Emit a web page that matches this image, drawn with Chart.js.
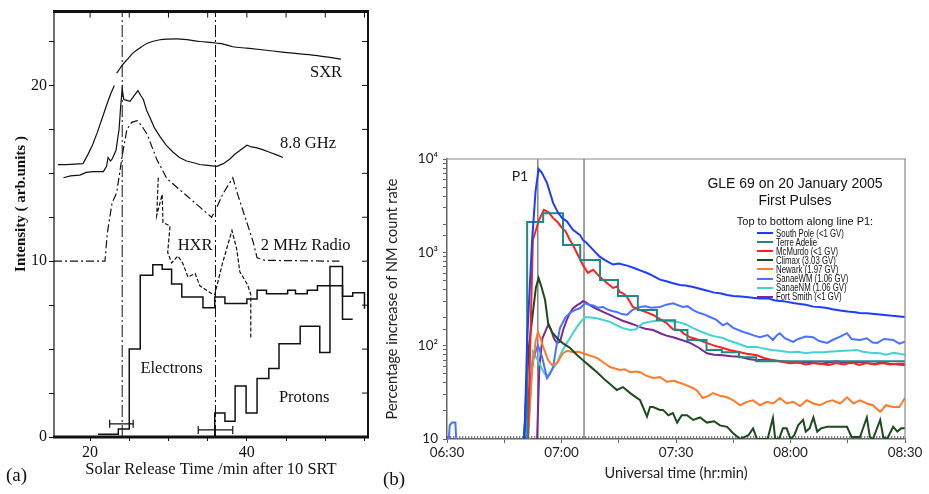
<!DOCTYPE html>
<html>
<head>
<meta charset="utf-8">
<script src="https://cdn.jsdelivr.net/npm/chart.js@4.4.1/dist/chart.umd.min.js"></script>
<style>
  body { margin: 0; background: #fff; width: 929px; height: 494px; position: relative; overflow: hidden; }
  canvas { position: absolute; top: 0; }
  #chartA { left: 0; }
  #chartB { left: 380px; }
  .t { position: absolute; white-space: nowrap; color: #111; }
  .serif { font-family: "Liberation Serif", serif; }
  .sans { font-family: "Liberation Sans", Arial, sans-serif; }
  .ytitle { left: 20px; top: 204px; font-size: 15px; font-weight: bold; transform: translate(-50%, -50%) rotate(-90deg); }
  .ctr { transform: translate(-50%, -50%); }
  #legend { position: absolute; left: 757px; top: 228.5px; }
  .lr { height: 9.1px; display: flex; align-items: center; font: 10px "Liberation Sans", Arial, sans-serif; color: #111; }
  .sw { width: 16px; height: 2px; margin-right: 3px; flex: none; }
  .ln { display: inline-block; transform: scaleX(0.78); transform-origin: left center; white-space: nowrap; }
</style>
</head>
<body>
<canvas id="chartA" width="380" height="494"></canvas>
<canvas id="chartB" width="549" height="494"></canvas>
<div class="t serif ytitle">Intensity ( arb.units )</div>
<div class="t serif" style="left:6px;top:464px;font-size:19px">(a)</div>
<div class="t serif" style="left:383px;top:468px;font-size:19px">(b)</div>
<div class="t sans ctr" style="left:795px;top:183px;font-size:14px">GLE 69 on 20 January 2005</div>
<div class="t sans ctr" style="left:795px;top:200px;font-size:14px">First Pulses</div>
<div class="t sans ctr" style="left:805px;top:221px;font-size:11px">Top to bottom along line P1:</div>
<div id="legend"></div>
<script>
// ---- panel (a): minutes after 10 SRT vs intensity (arb. units)
const sxr = [[23.4, 20.7], [23.8, 20.95], [24.1, 21.15], [24.8, 21.5], [25.5, 21.85], [26.4, 22.15],
  [27.3, 22.4], [28.9, 22.6], [31.1, 22.65], [34, 22.5], [36.2, 22.4], [37, 22.35], [38.2, 22.2],
  [40, 22.12], [42.5, 22.0], [44.5, 21.9], [46.8, 21.8], [49, 21.7], [52, 21.5]];
const riseCurve = [[15.9, 15.5], [17, 15.5], [18, 15.52], [19.1, 15.55], [19.7, 16.05], [20.3, 16.6],
  [20.9, 17.3], [21.6, 18.2], [22.2, 19.0], [22.7, 19.6], [23.1, 20.0]];
const ghz88 = [[16.6, 14.75], [17.5, 14.85], [18.7, 14.9], [19.5, 15.05], [20.4, 15.1], [21.7, 15.1],
  [22.1, 15.4], [22.3, 15.9], [22.6, 15.7], [22.8, 15.8], [23.3, 16.3], [23.7, 17.5], [23.9, 18.8],
  [24.1, 19.8], [24.3, 19.2], [24.7, 19.15], [25.1, 19.1], [25.6, 19.4], [26.1, 19.7], [26.5, 19.4],
  [26.8, 19.2], [27.2, 18.6], [27.6, 18.2], [28.2, 17.6], [28.9, 17.1], [29.7, 16.6], [30.6, 16.2],
  [31.4, 15.9], [32.3, 15.7], [33.2, 15.6], [34, 15.5], [35, 15.45], [36.2, 15.4], [37, 15.55],
  [37.8, 15.8], [38.5, 16.1], [39.1, 16.3], [40, 16.6], [40.6, 16.5], [41.3, 16.45], [42, 16.35],
  [42.9, 16.2], [43.8, 16.05], [44.6, 15.9]];
const radio2MHz = [[15.4, 10], [21.9, 10], [22.2, 11.6], [22.8, 13.3], [23.4, 13.9], [23.6, 14.5],
  [24.1, 16], [24.7, 17.5], [25.3, 17.9], [26, 18.0], [26.6, 17.7], [27.3, 17.2], [28.5, 15.8],
  [29.8, 14.7], [35.5, 12.5], [36, 12.9], [36.9, 13.8], [38.2, 14.75], [38.9, 13.7], [40, 12.2],
  [40.8, 11.1], [41.3, 10.2], [42.3, 10.05], [51.8, 10]];
const hxr = [[28.7, 14.75], [28.5, 12.6], [29.2, 13.8], [29.3, 12.2], [30.2, 12.0], [29.9, 10.5],
  [30.4, 9.9], [31.2, 10.3], [31.8, 9.9], [32.5, 9.1], [33.4, 9.3], [34, 8.6], [35.7, 8.1],
  [35.9, 8.1], [36.9, 9.9], [38.1, 11.75], [38.7, 10.7], [39.1, 9.4], [40.1, 8.65], [40.5, 8.1],
  [40.5, 5.6]];
const electrons = [[21, 0.15], [23.6, 0.45], [25.0, 5.0], [26.4, 9.2], [28.0, 9.8], [29.2, 9.55],
  [30.4, 8.7], [31.7, 7.97], [34.4, 7.35], [35.9, 7.97], [37.2, 7.6], [40, 7.85], [41.3, 8.35],
  [42.5, 8.15], [45.2, 8.35], [46.2, 8.15], [47.7, 8.35], [49, 8.6], [52.2, 8.0], [53.5, 8.2], [55, 7.3]];
const protons = [[35.9, 0], [35.9, 1.36], [37.2, 0.9], [38.5, 2.9], [39.9, 1.36], [41.3, 3.33],
  [42.8, 3.9], [44.1, 5.3], [46.8, 6.3], [49.3, 4.8], [50.6, 9.7], [52.2, 6.7], [53.5, 6.7]];
const electronErr = [[22.5, 0.75], [25.5, 0.75]];
const protonErr = [[33.8, 0.4], [38.2, 0.4]];
const releaseTimes = [24.1, 36];

// ---- panel (b): minutes after 06:30 UT vs percentage increase
const timeTicks = ['06:30', '07:00', '07:30', '08:00', '08:30'];
const stations = ['South Pole (<1 GV)', 'Terre Adelie', 'McMurdo (<1 GV)', 'Climax (3.03 GV)',
  'Newark (1.97 GV)', 'SanaeWM (1.06 GV)', 'SanaeNM (1.06 GV)', 'Fort Smith (<1 GV)'];
const southPole = [[20.3, 10], [21, 115], [22.3, 1350], [23.2, 4500], [24, 7800], [24.8, 7200],
  [26.2, 5550], [27.8, 3390], [29, 2700], [30.1, 2340], [31.4, 2150], [33, 1740], [34.8, 1540],
  [35.6, 1358], [36.6, 1260], [38.3, 1061], [40, 900], [41.5, 820], [43.5, 740], [45, 760],
  [47.2, 720], [49, 680], [50.6, 640], [52.4, 600], [54, 560], [55.8, 510], [57.5, 490], [59, 470],
  [61, 446], [62.5, 440], [64.5, 426], [66, 410], [68, 390], [70, 370], [71.5, 365], [73.4, 349],
  [75, 340], [77, 336], [79, 330], [80.5, 325], [82, 320], [84, 322], [86, 305], [88, 300],
  [90.7, 287], [92.5, 280], [94, 275], [96, 262], [98, 258], [99.6, 253], [101, 245], [103, 238],
  [105, 232], [107, 228], [108, 224], [110, 222], [112, 218], [114, 214], [116, 210], [118, 207], [120, 203]];
const terreAdelie = [[21, 10], [21, 2120], [25.2, 2630], [30.4, 1200], [34.9, 830], [40.1, 506],
  [44.8, 340], [50, 241], [55, 187], [59.7, 147], [63, 115], [68, 90], [72, 85], [76.5, 75],
  [81, 68], [120, 66]];
const mcMurdo = [[21.2, 10], [22.5, 1358], [24.1, 2220], [25.4, 2850], [26.5, 2700], [27.8, 2340],
  [29, 2100], [30.1, 1830], [31, 1700], [32.2, 1358], [33, 1200], [34, 990], [35.6, 733], [36.9, 603],
  [38.3, 650], [40.1, 543], [41.9, 470], [43.5, 415], [44.5, 430], [45.3, 377], [46.3, 360],
  [47.2, 332], [48.7, 260], [50.6, 241], [52, 230], [54, 213], [56, 190], [57.6, 174], [59.2, 150],
  [61, 147], [62, 135], [63.7, 123], [66, 115], [68, 107], [70, 100], [72.3, 94.5], [74, 90],
  [76.8, 85], [78.5, 82], [81.2, 79], [83, 74], [85.4, 70], [87, 68], [89.9, 65], [92, 66], [94, 63],
  [96, 65], [98, 64], [100, 62], [102, 65], [104, 63], [106, 66], [108, 62], [110, 65], [112, 63],
  [114, 65], [116, 63], [118, 64], [120, 64]];
const climax = [[20.2, 10], [20.7, 28], [21.5, 100], [22.5, 224], [23.3, 420], [24, 530], [24.8, 420],
  [25.7, 308], [26.5, 174], [27.5, 140], [28.8, 121], [30.5, 105], [32.2, 95], [34, 80], [35.6, 70],
  [37.5, 60], [39.3, 52], [41.4, 43], [43, 38], [44.5, 33.5], [46.1, 36], [48, 31], [50.6, 26],
  [52.4, 17.4], [53.2, 22], [54, 22], [55.8, 20.5], [56.6, 20.5], [58, 18], [59.2, 19], [60.3, 15],
  [61.5, 18], [62.9, 18], [64.5, 16], [66.3, 17], [68.1, 15], [70, 15.5], [71.5, 14], [73.4, 13.5],
  [74.9, 11.6], [76.8, 10], [79, 11], [80.2, 13], [81.2, 10], [84, 10], [85.4, 16.8], [86, 10],
  [87, 10], [88, 13], [89, 13], [90, 10], [91, 11], [92, 14], [93.3, 16], [94, 12], [95, 13], [96, 17],
  [97, 12], [98, 13], [99.6, 13.5], [104.8, 13.5], [106, 10.5], [108.2, 10.5], [110, 17], [110.8, 10.5],
  [111.6, 10], [113.5, 16], [114.3, 10.5], [115.3, 10], [116.9, 13.5], [118, 12], [119, 13], [120, 13]];
const newark = [[21.1, 10], [22.2, 50], [23.2, 110], [23.8, 140], [24.5, 120], [25.2, 97], [26.5, 70],
  [27.5, 62], [28.8, 65], [30.4, 83], [31.5, 88], [33, 85], [34.5, 86], [35.6, 83], [37.5, 78],
  [39.3, 74], [41, 66], [42.7, 59], [44, 57], [45.3, 55], [46.5, 56], [48, 52], [49.5, 53], [50.6, 52],
  [52, 48], [54, 45], [55.8, 46], [57.6, 41], [59.5, 42], [61, 40], [62.5, 38], [64.5, 35], [65.5, 33],
  [67, 27.5], [68.5, 29], [69.7, 31], [71.5, 29], [73.4, 28], [75, 26], [76.8, 23], [78.5, 25],
  [80.2, 26], [82, 23], [83.8, 25], [85.5, 24], [87.2, 27.5], [89, 24], [90.7, 25], [92.5, 22.5],
  [94.3, 26], [96, 24], [97.7, 23], [99.5, 25], [101, 26], [103, 24], [104.8, 28], [106.5, 24],
  [108.2, 26], [110, 24], [111.6, 23], [113.5, 19.5], [115, 23], [116.9, 22], [118.5, 22], [120, 27.5]];
const sanaeWM = [[0.5, 10], [0.7, 14], [1.3, 15], [2.2, 15], [2.4, 10], [2.5, null], [20.1, 10],
  [21, 30], [21.7, 36], [22.5, 70], [23.8, 101], [24.9, 76], [26.2, 45], [27, 50], [27.8, 59],
  [28.7, 100], [29.6, 154], [31, 200], [32.2, 224], [33.5, 240], [34.9, 253], [36.2, 285], [37.3, 275],
  [38.3, 270], [39.5, 255], [40.9, 260], [42, 245], [43.2, 235], [44.5, 230], [45.8, 218], [47.2, 215],
  [48.5, 240], [50.6, 260], [52, 265], [53.5, 255], [55.8, 260], [57.5, 275], [59.2, 285], [61.8, 260],
  [63, 265], [64.5, 240], [66, 225], [67.5, 215], [68.9, 203], [70.5, 190], [72.3, 165], [73.4, 174],
  [75, 155], [77.6, 140], [79, 135], [80.5, 128], [82, 123], [84, 130], [85.4, 115], [86.5, 130],
  [87.2, 136], [88.5, 120], [90.7, 110], [92, 118], [94, 125], [95.9, 123], [97.5, 112], [99.6, 107],
  [101, 115], [103, 125], [104.8, 136], [106, 118], [108.2, 115], [110, 120], [111.5, 108],
  [112.7, 107], [114.5, 118], [116.9, 115], [118.5, 105], [120, 110]];
const sanaeNM = [[21.3, 10], [22.5, 86], [23.8, 70], [25, 55], [26.2, 46], [27.5, 55], [28.8, 65],
  [30, 85], [31.4, 107], [32.7, 130], [34, 158], [35, 180], [36.2, 203], [37.8, 200], [39.3, 197],
  [41, 188], [42.7, 180], [44.5, 165], [46.1, 154], [48, 147], [49.5, 150], [50.6, 165], [51.4, 174],
  [53.5, 182], [55.8, 187], [58, 183], [60.3, 180], [62.5, 170], [64.5, 154], [66.5, 142], [68.9, 130],
  [70.5, 125], [72.3, 121], [73.4, 115], [75.5, 108], [78.6, 97], [81.2, 97], [83, 93], [85, 90],
  [87, 88], [89.9, 85], [92, 86], [94, 83], [96, 85], [98.5, 85], [100, 86], [102, 87], [104, 88],
  [105.5, 89], [107.4, 90], [109, 86], [111, 84], [113.5, 83], [115, 80], [117, 84], [118.5, 82], [120, 80]];
const fortSmith = [[23.6, 10], [24.2, 60], [25, 120], [25.7, 140], [26.5, 167], [27.2, 150], [28, 120],
  [28.8, 107], [29.6, 110], [30.5, 150], [31.4, 190], [32.2, 224], [33, 250], [34, 270], [35, 285],
  [35.6, 300], [36.3, 292], [37.5, 270], [39, 250], [40.9, 230], [42.5, 215], [44.5, 197], [46, 185],
  [48, 174], [49.5, 165], [50.6, 158], [52, 152], [54, 147], [56, 135], [57.5, 128], [59.2, 123],
  [61.5, 115], [63.7, 107], [66, 95], [68.1, 83], [70, 80], [72.3, 79], [74.5, 77], [76.8, 76], [79, 72],
  [81.2, 70], [83, 71], [85.4, 70], [87.5, 68], [89.9, 67], [92, 66], [94, 67], [96, 65], [98, 64],
  [100, 66], [102, 68], [104, 66], [106, 65], [108, 67], [110, 65], [112, 64], [114, 66], [116, 64],
  [118, 63], [120, 62]];
const pulseLines = [23.8, 35.9];

// ---- helpers
function line(data, opts) {
  return Object.assign({ data: data, borderColor: '#111', borderWidth: 1.2, pointRadius: 0,
    fill: false, tension: 0 }, opts);
}

// draws short text labels at data coordinates
const textLabels = {
  id: 'textLabels',
  afterDatasetsDraw(chart, args, opts) {
    const ctx = chart.ctx, x = chart.scales.x, y = chart.scales.y;
    ctx.save();
    ctx.fillStyle = opts.color;
    ctx.font = opts.font;
    ctx.textAlign = 'center';
    ctx.textBaseline = 'middle';
    opts.items.forEach(function(it) {
      ctx.fillText(it[0], x.getPixelForValue(it[1]), y.getPixelForValue(it[2]));
    });
    ctx.restore();
  }
};

// box around the plot area, with inward ticks on top / right
const frame = {
  id: 'frame',
  afterDraw(chart, args, opts) {
    const ctx = chart.ctx, a = chart.chartArea;
    const seg = function(x1, y1, x2, y2, w) {
      ctx.lineWidth = w;
      ctx.beginPath(); ctx.moveTo(x1, y1); ctx.lineTo(x2, y2); ctx.stroke();
    };
    ctx.save();
    ctx.strokeStyle = opts.color;
    seg(a.left - 1, a.top, a.right + 1, a.top, opts.top);
    seg(a.right, a.top, a.right, a.bottom, opts.right);
    if (opts.bottom) seg(a.left - 1, a.bottom, a.right + 1, a.bottom, opts.bottom);
    if (opts.left) seg(a.left, a.top, a.left, a.bottom, opts.left);
    if (opts.inner) {
      chart.scales.y.ticks.forEach(function(t) {
        const py = chart.scales.y.getPixelForValue(t.value);
        seg(a.right - 6, py, a.right, py, 1);
      });
      chart.scales.x.ticks.forEach(function(t) {
        const px = chart.scales.x.getPixelForValue(t.value);
        seg(px, a.top, px, a.top + 6, 1);
      });
    }
    ctx.restore();
  }
};

const serif = '"Liberation Serif", "Times New Roman", serif';

// ---- panel (a)
const aSets = [
  line(sxr, { cubicInterpolationMode: 'monotone' }),
  line(riseCurve),
  line(ghz88),
  line(radio2MHz, { borderDash: [8, 3, 2, 3] }),
  line(hxr, { borderDash: [4, 2] }),
  line(electrons, { stepped: true, borderWidth: 1.5 }),
  line(protons, { stepped: true, borderWidth: 1.5 }),
  line(electronErr, { pointStyle: 'line', pointRotation: 90, pointRadius: 4, pointBorderColor: '#111', pointBorderWidth: 1.2 }),
  line(protonErr, { pointStyle: 'line', pointRotation: 90, pointRadius: 4, pointBorderColor: '#111', pointBorderWidth: 1.2 })
];
releaseTimes.forEach(function(t) {
  aSets.push(line([[t, 0], [t, 24.2]], { borderDash: [12, 3, 2, 3], borderWidth: 1 }));
});

new Chart(document.getElementById('chartA'), {
  type: 'line',
  data: { datasets: aSets },
  plugins: [textLabels, frame],
  options: {
    responsive: false,
    animation: false,
    devicePixelRatio: 1,
    layout: { padding: { top: 8, right: 12, left: 0, bottom: 0 } },
    plugins: {
      legend: { display: false },
      tooltip: { enabled: false },
      textLabels: {
        color: '#111',
        font: '16.5px ' + serif,
        items: [['SXR', 50.1, 20.7], ['8.8 GHz', 47.8, 16.7], ['HXR', 33.4, 10.9],
          ['2 MHz Radio', 47.5, 10.9], ['Electrons', 30.4, 3.9], ['Protons', 47.3, 2.26]]
      },
      frame: { color: '#111', top: 3, bottom: 3, left: 1.2, right: 2, inner: true }
    },
    scales: {
      x: {
        type: 'linear', min: 15.4, max: 55.45,
        afterFit: function(s) { s.height = 57; },
        border: { display: false },
        grid: { drawOnChartArea: false, tickLength: 4, color: '#111' },
        ticks: {
          stepSize: 5, includeBounds: false, autoSkip: false, maxRotation: 0, padding: 2,
          color: '#111', font: { family: serif, size: 16 },
          callback: function(v) { return (Math.round(v) === 20 || Math.round(v) === 40) ? String(Math.round(v)) : ''; }
        },
        title: {
          display: true, text: 'Solar Release Time /min after 10 SRT', color: '#111',
          font: { family: serif, size: 16.5 }, padding: { top: 0, bottom: 14 }
        }
      },
      y: {
        type: 'linear', min: 0, max: 24.2,
        afterFit: function(s) { s.width = 54; },
        border: { display: false },
        grid: { drawOnChartArea: false, tickLength: 5, color: '#111' },
        ticks: {
          stepSize: 2.5, includeBounds: false, autoSkip: false, padding: 2,
          color: '#111', font: { family: serif, size: 16 },
          callback: function(v) { return v % 10 === 0 ? v : ''; }
        }
      }
    }
  }
});

// ---- panel (b)
const stationColors = ['#1f3dff', '#1d8a86', '#ff2020', '#1e4a1e', '#ff7a2a', '#4a72ff', '#45d2d2', '#7a2a90'];
const stationData = [southPole, terreAdelie, mcMurdo, climax, newark, sanaeWM, sanaeNM, fortSmith];
const bSets = stationData.map(function(d, i) {
  return line(d, { label: stations[i], borderColor: stationColors[i], borderWidth: 2,
    stepped: i === 1 ? true : false });
});
pulseLines.forEach(function(t) {
  bSets.push(line([[t, 10], [t, 10000]], { borderColor: '#666', borderWidth: 1.2 }));
});
bSets.push(line([[0, 10.5], [120, 10.5]], { borderColor: '#555', borderWidth: 1.6, borderDash: [1.3, 1.7] }));

const powLabels = { 10: '10', 100: '10²', 1000: '10³', 10000: '10⁴' };
const sans = 'Lato, "Open Sans", "DejaVu Sans", sans-serif';

new Chart(document.getElementById('chartB'), {
  type: 'line',
  data: { datasets: bSets },
  plugins: [textLabels, frame],
  options: {
    responsive: false,
    animation: false,
    devicePixelRatio: 1,
    layout: { padding: { top: 159, right: 24, left: 0, bottom: 0 } },
    plugins: {
      legend: { display: false },
      tooltip: { enabled: false },
      textLabels: { color: '#222', font: '14px ' + sans, items: [['P1', 19.1, 6460]] },
      frame: { color: '#8a8a8a', top: 1.2, right: 1.2 }
    },
    scales: {
      x: {
        type: 'linear', min: 0, max: 120,
        afterFit: function(s) { s.height = 55; },
        border: { color: '#666', width: 1.5 },
        grid: { drawOnChartArea: false, tickLength: 4, color: '#666' },
        ticks: {
          stepSize: 15, autoSkip: false, maxRotation: 0, padding: 2,
          color: '#222', font: { family: sans, size: 13.5 },
          callback: function(v) { return v % 30 === 0 ? timeTicks[v / 30] : ''; }
        },
        title: {
          display: true, text: 'Universal time (hr:min)', color: '#222',
          font: { family: sans, size: 14.5 }, padding: { top: 0, bottom: 12 }
        }
      },
      y: {
        type: 'logarithmic', min: 10, max: 10000,
        afterFit: function(s) { s.width = 67; },
        border: { color: '#666', width: 1.5 },
        grid: { drawOnChartArea: false, tickLength: 4, color: '#666' },
        ticks: {
          autoSkip: false, padding: 5,
          color: '#222', font: { family: sans, size: 13.5 },
          callback: function(v) { return powLabels[v] || ''; }
        },
        title: {
          display: true, text: 'Percentage increase of NM count rate', color: '#222',
          font: { family: sans, size: 14.5 }, padding: { top: 4, bottom: 0 }
        }
      }
    }
  }
});

// legend rows, built from the station list
const legend = document.getElementById('legend');
stations.forEach(function(name, i) {
  const row = document.createElement('div');
  row.className = 'lr';
  const sw = document.createElement('span');
  sw.className = 'sw';
  sw.style.background = stationColors[i];
  const ln = document.createElement('span');
  ln.className = 'ln';
  ln.textContent = name;
  row.appendChild(sw);
  row.appendChild(ln);
  legend.appendChild(row);
});
</script>
</body>
</html>
